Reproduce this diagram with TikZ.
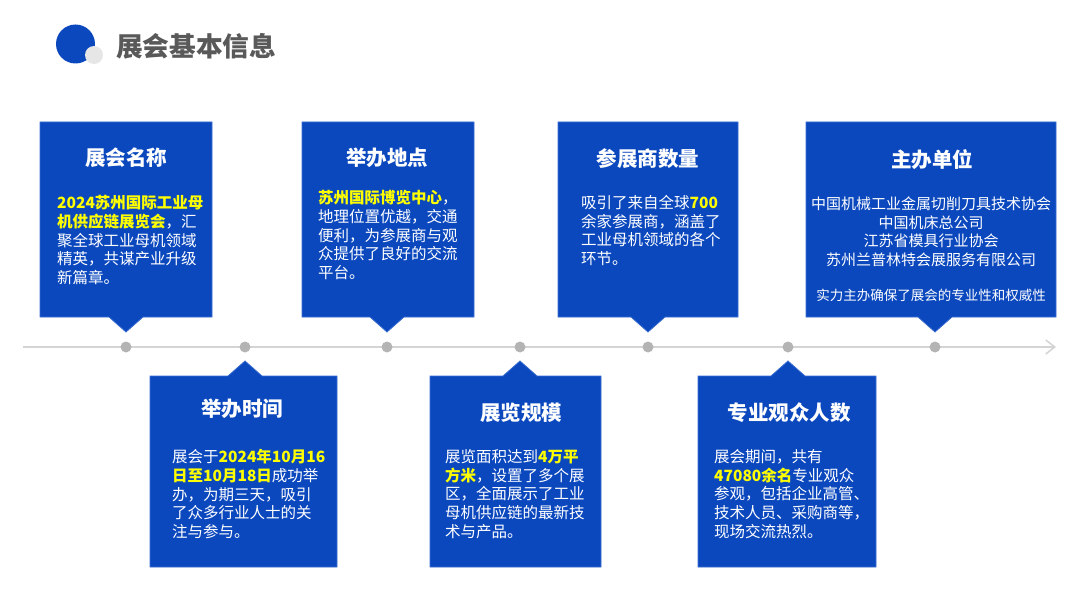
\documentclass[tikz,border=0pt]{standalone}
\usepackage{fontspec}
\setmainfont{Noto Sans CJK SC}
\usetikzlibrary{arrows.meta}
\definecolor{boxblue}{HTML}{0B48BE}
\definecolor{boxedge}{HTML}{3A6CD0}
\definecolor{hlyellow}{HTML}{FFFF00}
\definecolor{dotgray}{HTML}{B4B4B4}
\definecolor{linegray}{HTML}{D4D4D4}
\definecolor{titlegray}{HTML}{595959}
\definecolor{circgray}{HTML}{E6E6E6}
\newcommand\hlt[1]{{\bfseries\color{hlyellow}#1}}
\tikzset{
  panel/.style={fill=boxblue, draw=boxedge, line width=0.8pt},
  headtext/.style={text=white, font=\fontsize{20.5}{24}\selectfont\bfseries, inner sep=0, anchor=center},
  bodytext/.style={text=white, font=\fontsize{15.5}{18.8}\selectfont, inner sep=0, anchor=north west, align=left},
  orgtext/.style={text=white, font=\fontsize{15}{18.4}\selectfont, inner sep=0, anchor=north, align=center},
  tldot/.style={circle, fill=dotgray, minimum size=11pt, inner sep=0},
}
\begin{document}
\begin{tikzpicture}[x=1pt,y=-1pt]
\useasboundingbox (0,0) rectangle (1080,607);
% header
\fill[boxblue] (75.5,44) circle (19.5);
\fill[circgray] (94,55) circle (9);
\node[anchor=west, inner sep=0, text=titlegray, font=\fontsize{26.7}{30}\selectfont\bfseries] (title) at (116,46.5) {展会基本信息};
% timeline
\coordinate (tlstart) at (23,347);
\coordinate (tlend) at (1056,347);
\draw[linegray, line width=1.8pt, -{Straight Barb[length=9pt,width=14pt,line width=1.5pt]}] (tlstart) -- (tlend);
\foreach \n/\x in {d1/126,d2/245,d3/387,d4/520,d5/648,d6/788,d7/935}{
  \node[tldot] (\n) at (\x,347) {};
}
% top panels
\foreach \xa/\xb/\tx in {40/212/126, 302/474/387, 558/738/648, 806/1056/935}{
  \draw[panel] (\xa,122) -- (\xb,122) -- (\xb,317) -- (\tx+17,317) -- (\tx,332) -- (\tx-17,317) -- (\xa,317) -- cycle;
}
% bottom panels
\foreach \xa/\xb/\tx in {150/337/245, 430/601/520, 698/876/788}{
  \draw[panel] (\xa,567) -- (\xa,376) -- (\tx-17,376) -- (\tx,361) -- (\tx+17,376) -- (\xb,376) -- (\xb,567) -- cycle;
}
% panel 1
\node[headtext] (h1) at (126,158) {展会名称};
\node[bodytext] (b1) at (57,195) {\hlt{2024苏州国际工业母}\\\hlt{机供应链展览会}，汇\\聚全球工业母机领域\\精英，共谋产业升级\\新篇章。};
% panel 2
\node[headtext] (h2) at (387,158) {举办地点};
\node[bodytext] (b2) at (318,190) {\hlt{苏州国际博览中心}，\\地理位置优越，交通\\便利，为参展商与观\\众提供了良好的交流\\平台。};
% panel 3
\node[headtext] (h3) at (648,159) {参展商数量};
\node[bodytext] (b3) at (581,195) {吸引了来自全球\hlt{700}\\余家参展商，涵盖了\\工业母机领域的各个\\环节。};
% panel 4
\node[headtext] (h4) at (932,160) {主办单位};
\node[orgtext] (b4) at (931,197) {中国机械工业金属切削刀具技术协会\\中国机床总公司\\江苏省模具行业协会\\苏州兰普林特会展服务有限公司};
\node[text=white, font=\fontsize{13.5}{16}\selectfont, inner sep=0] (b4b) at (931,295) {实力主办确保了展会的专业性和权威性};
% bottom panel 1
\node[headtext] (h5) at (242,409) {举办时间};
\node[bodytext] (b5) at (172,449) {展会于\hlt{2024年10月16}\\\hlt{日至10月18日}成功举\\办，为期三天，吸引\\了众多行业人士的关\\注与参与。};
% bottom panel 2
\node[headtext] (h6) at (521,413) {展览规模};
\node[bodytext] (b6) at (445,449) {展览面积达到\hlt{4万平}\\\hlt{方米}，设置了多个展\\区，全面展示了工业\\母机供应链的最新技\\术与产品。};
% bottom panel 3
\node[headtext] (h7) at (789,413) {专业观众人数};
\node[bodytext] (b7) at (714,449) {展会期间，共有\\\hlt{47080余名}专业观众\\参观，包括企业高管、\\技术人员、采购商等，\\现场交流热烈。};
\end{tikzpicture}
\end{document}
